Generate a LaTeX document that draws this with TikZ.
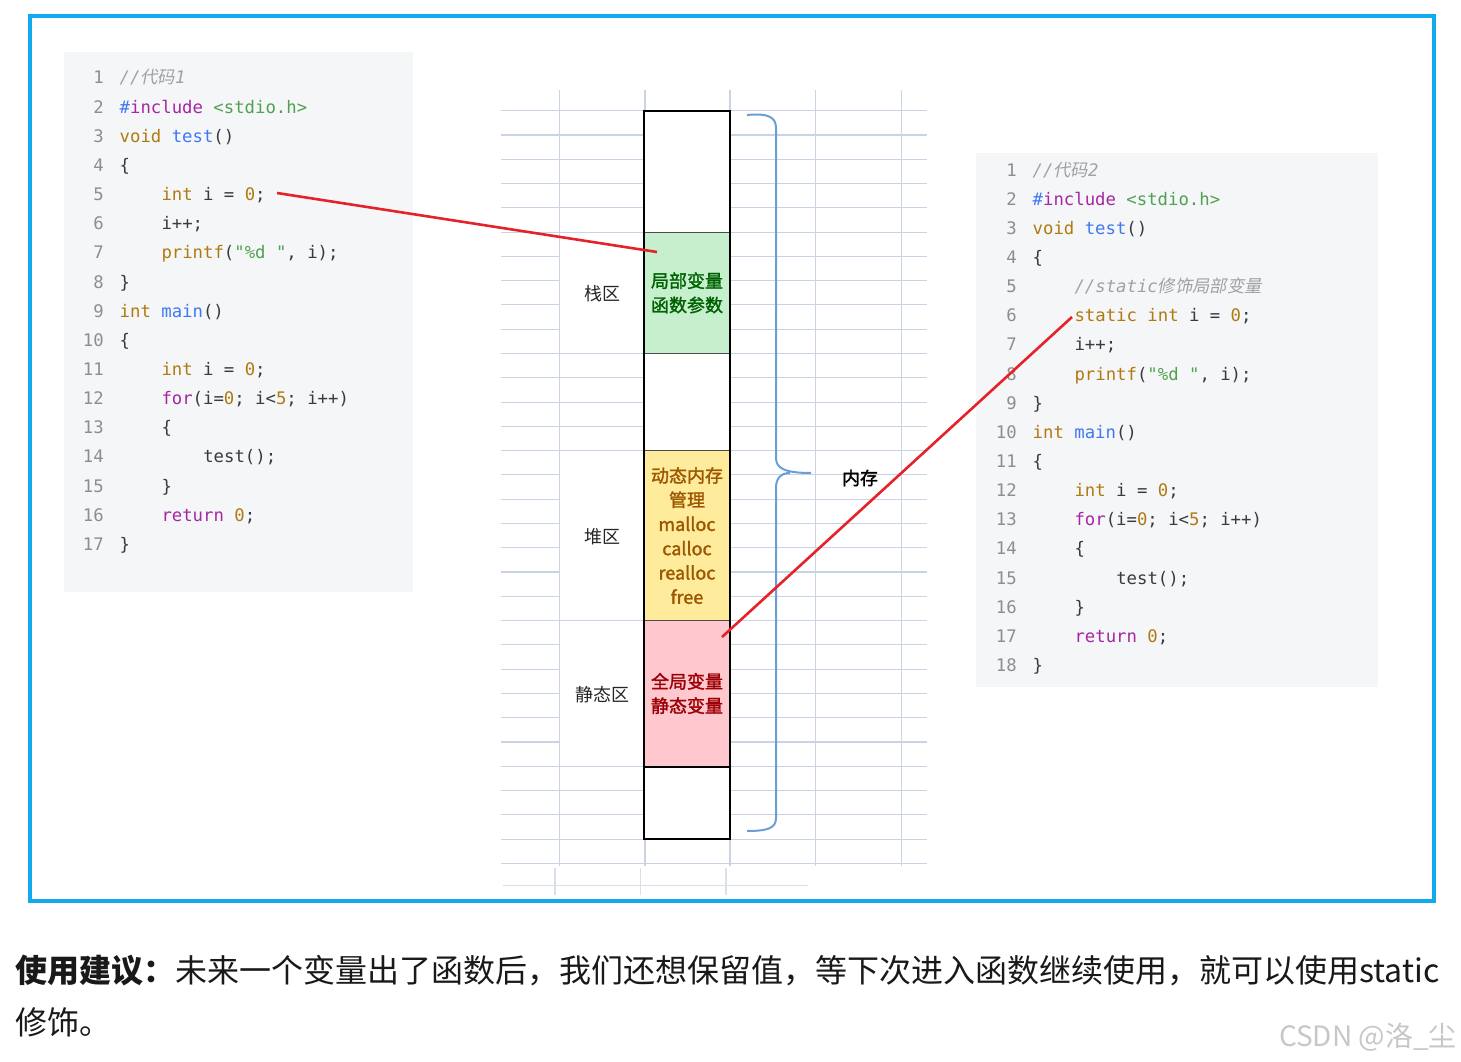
\documentclass[tikz,border=0pt]{standalone}
\usepackage{fontspec}
\setmonofont{DejaVu Sans Mono}
\newfontfamily\cjk{Noto Sans CJK SC}
\newfontfamily\cjkit[FakeSlant=0.2]{Noto Sans CJK SC}
\newfontfamily\cjkmid[FakeBold=1.6]{Noto Sans CJK SC}

\definecolor{framecol}{HTML}{12AAEE}
\definecolor{codebg}{HTML}{F5F6F8}
\definecolor{gridcol}{HTML}{C9D3E3}
\definecolor{bracecol}{HTML}{6A9FD4}
\definecolor{redcol}{HTML}{E52229}
\definecolor{cplain}{HTML}{383A42}
\definecolor{cnumline}{HTML}{8E8E8E}
\definecolor{cty}{HTML}{B07A12}
\definecolor{cfn}{HTML}{4078F2}
\definecolor{cctl}{HTML}{A626A4}
\definecolor{cnum}{HTML}{B07A12}
\definecolor{cstr}{HTML}{50A14F}
\definecolor{ccmt}{HTML}{A0A1A7}
\definecolor{stackfill}{HTML}{C6EFCE}
\definecolor{stacktext}{HTML}{006100}
\definecolor{heapfill}{HTML}{FFEB9C}
\definecolor{heaptext}{HTML}{9C5700}
\definecolor{staticfill}{HTML}{FFC7CE}
\definecolor{statictext}{HTML}{9C0006}

\newcommand{\kwty}[1]{\textcolor{cty}{#1}}
\newcommand{\kwfn}[1]{\textcolor{cfn}{#1}}
\newcommand{\kwctl}[1]{\textcolor{cctl}{#1}}
\newcommand{\kwnum}[1]{\textcolor{cnum}{#1}}
\newcommand{\kwstr}[1]{\textcolor{cstr}{#1}}
\newcommand{\kwcmt}[1]{\textcolor{ccmt}{\itshape #1}}
\newcommand{\kwinc}{\textcolor{cfn}{\#}\textcolor{cctl}{include}}
% line number + code text, #1 prefix, #2 line, #3 indent (chars), #4 text
\newcommand{\codeln}[4]{\node[lnum] (#1n#2) at (0,{(#2-1)*29.15}) {#2}; \node[code] (#1c#2) at ({15.5+#3*10.45},{(#2-1)*29.15}) {#4};}

\tikzset{
  lnum/.style = {anchor=base east, inner sep=0, text=cnumline, font=\ttfamily\fontsize{17.3}{20}\selectfont},
  code/.style = {anchor=base west, inner sep=0, text=cplain, font=\ttfamily\fontsize{17.3}{20}\selectfont},
  grid/.style = {draw=gridcol, line width=1.1},
  cell/.style = {draw=black!70, line width=1, minimum width=86pt, inner sep=0, align=center, font=\cjkmid\fontsize{18}{24.3}\selectfont},
  zone/.style = {inner sep=0, text=black!85, font=\cjk\fontsize{18}{22}\selectfont},
  brace/.style = {draw=bracecol, line width=2},
  redline/.style = {draw=redcol, line width=2.6},
}

\begin{document}
\begin{tikzpicture}[x=1pt, y=-1pt]
\useasboundingbox (0,0) rectangle (1461,1062);
\draw[framecol, line width=4] (30,16) rectangle (1434,901);

% code boxes
\fill[codebg] (64,52) rectangle (413,592);
\fill[codebg] (976,153) rectangle (1378,687);

\begin{scope}[shift={(104,84)}]
\codeln{L}{1}{0}{\kwcmt{//{\cjkit 代码}1}}
\codeln{L}{2}{0}{\kwinc{} \kwstr{<stdio.h>}}
\codeln{L}{3}{0}{\kwty{void} \kwfn{test}()}
\codeln{L}{4}{0}{\{}
\codeln{L}{5}{4}{\kwty{int} i = \kwnum{0};}
\codeln{L}{6}{4}{i++;}
\codeln{L}{7}{4}{\kwty{printf}(\kwstr{"\%d "}, i);}
\codeln{L}{8}{0}{\}}
\codeln{L}{9}{0}{\kwty{int} \kwfn{main}()}
\codeln{L}{10}{0}{\{}
\codeln{L}{11}{4}{\kwty{int} i = \kwnum{0};}
\codeln{L}{12}{4}{\kwctl{for}(i=\kwnum{0}; i<\kwnum{5}; i++)}
\codeln{L}{13}{4}{\{}
\codeln{L}{14}{8}{test();}
\codeln{L}{15}{4}{\}}
\codeln{L}{16}{4}{\kwctl{return} \kwnum{0};}
\codeln{L}{17}{0}{\}}
\end{scope}

\begin{scope}[shift={(1017,176)}]
\codeln{R}{1}{0}{\kwcmt{//{\cjkit 代码}2}}
\codeln{R}{2}{0}{\kwinc{} \kwstr{<stdio.h>}}
\codeln{R}{3}{0}{\kwty{void} \kwfn{test}()}
\codeln{R}{4}{0}{\{}
\codeln{R}{5}{4}{\kwcmt{//static{\cjkit 修饰局部变量}}}
\codeln{R}{6}{4}{\kwty{static} \kwty{int} i = \kwnum{0};}
\codeln{R}{7}{4}{i++;}
\codeln{R}{8}{4}{\kwty{printf}(\kwstr{"\%d "}, i);}
\codeln{R}{9}{0}{\}}
\codeln{R}{10}{0}{\kwty{int} \kwfn{main}()}
\codeln{R}{11}{0}{\{}
\codeln{R}{12}{4}{\kwty{int} i = \kwnum{0};}
\codeln{R}{13}{4}{\kwctl{for}(i=\kwnum{0}; i<\kwnum{5}; i++)}
\codeln{R}{14}{4}{\{}
\codeln{R}{15}{8}{test();}
\codeln{R}{16}{4}{\}}
\codeln{R}{17}{4}{\kwctl{return} \kwnum{0};}
\codeln{R}{18}{0}{\}}
\end{scope}

% sheet grid
\foreach \xx in {559.3,645,730,815.7,901.3}
  \draw[grid] (\xx,90) -- (\xx,866);
\foreach \k in {0,1,2,3,4,5,10,11,12,13,14,21,27,28,29,30,31}
  \draw[grid] (501,{110.7+24.28*\k}) -- (927,{110.7+24.28*\k});
\foreach \k in {6,7,8,9,15,16,17,18,19,20,22,23,24,25,26} {
  \draw[grid] (501,{110.7+24.28*\k}) -- (559.3,{110.7+24.28*\k});
  \draw[grid] (645,{110.7+24.28*\k}) -- (927,{110.7+24.28*\k});
}
\draw[grid, draw=gridcol!70] (503,885.7) -- (808,885.7);
\foreach \xx in {555,640.7,726}
  \draw[grid, draw=gridcol!70] (\xx,868) -- (\xx,895);

% memory column
\node[cell, fill=white, minimum height=121.4pt] (top) at (687,171.4) {};
\node[cell, fill=stackfill, text=stacktext, minimum height=121.4pt] (stack) at (687,292.8) {局部变量\\函数参数};
\node[cell, fill=white, minimum height=97.1pt] (gap) at (687,402.05) {};
\node[cell, fill=heapfill, text=heaptext, minimum height=170pt] (heap) at (687,535.6) {动态内存\\管理\\malloc\\calloc\\realloc\\free};
\node[cell, fill=staticfill, text=statictext, minimum height=145.7pt] (static) at (687,693.45) {全局变量\\静态变量};
\node[cell, fill=white, minimum height=72.8pt] (bottom) at (687,802.7) {};
\draw[line width=2.2] (644,110.7) rectangle (730,839.1);
\draw[line width=2.2] (static.south west) -- (static.south east);

\node[zone] (stacklbl) at (602.5,294) {栈区};
\node[zone] (heaplbl) at (602.5,537) {堆区};
\node[zone] (staticlbl) at (602.5,695) {静态区};

% brace
\draw[brace] (747,115) .. controls (768,113) and (776,117) .. (776,128) -- (776,458) .. controls (776,468) and (784,473) .. (811,473);
\draw[brace] (790,473) .. controls (781,473) and (776,478) .. (776,488) -- (776,818) .. controls (776,828) and (768,831) .. (747,831);
\node[zone, font=\cjkmid\fontsize{18}{22}\selectfont, text=black] (mem) at (860,478) {内存};

% links
\coordinate (from1) at (277,193);
\coordinate (to1) at (657,252);
\coordinate (from2) at (1072,317);
\coordinate (to2) at (722,637);
\draw[redline] (from1) -- (to1);
\draw[redline] (from2) -- (to2);

% note
\node[anchor=base west, inner sep=0, text=black!90, font=\cjk\fontsize{32}{36}\selectfont] (tip1) at (15,982) {{\bfseries 使用建议：}未来一个变量出了函数后，我们还想保留值，等下次进入函数继续使用，就可以使用static};
\node[anchor=base west, inner sep=0, text=black!90, font=\cjk\fontsize{32}{36}\selectfont] (tip2) at (15,1034) {修饰。};
\node[anchor=base east, inner sep=0, text=black!22, font=\cjk\fontsize{28}{30}\selectfont] (mark) at (1457,1046) {CSDN @洛\_尘};
\end{tikzpicture}
\end{document}
